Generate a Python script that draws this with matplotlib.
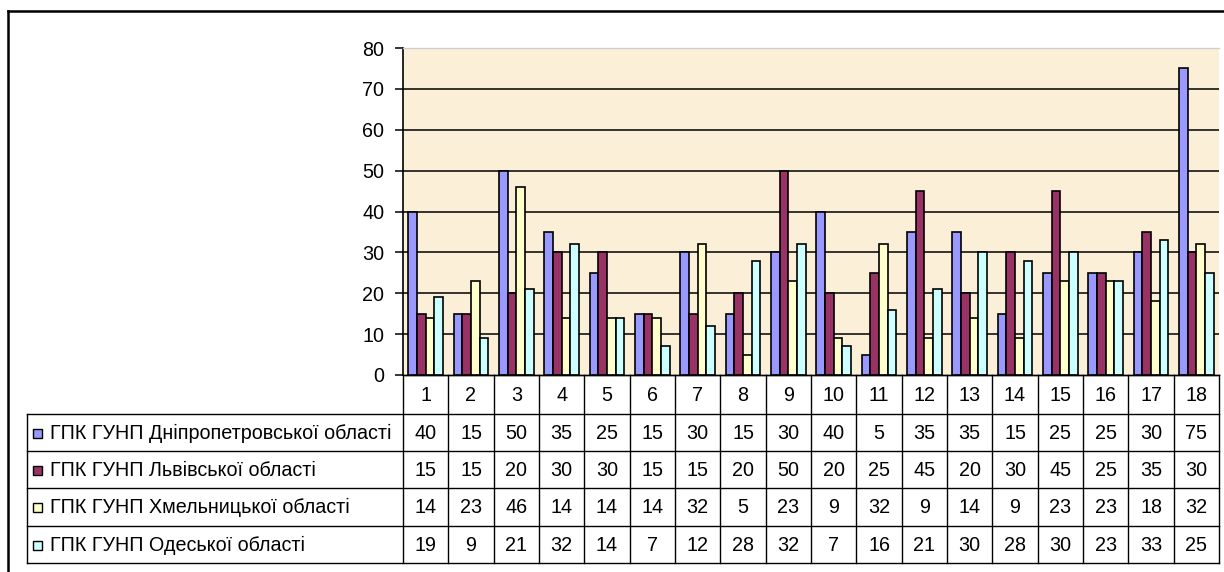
import numpy as np
import matplotlib
matplotlib.use("Agg")
import matplotlib.pyplot as plt
from matplotlib.patches import Rectangle

plt.rcParams['font.family'] = ['Liberation Sans', 'DejaVu Sans']

categories = [str(i) for i in range(1, 19)]
series_names = [
    "ГПК ГУНП Дніпропетровської області",
    "ГПК ГУНП Львівської області",
    "ГПК ГУНП Хмельницької області",
    "ГПК ГУНП Одеської області",
]
dnipro = [40, 15, 50, 35, 25, 15, 30, 15, 30, 40, 5, 35, 35, 15, 25, 25, 30, 75]
lviv = [15, 15, 20, 30, 30, 15, 15, 20, 50, 20, 25, 45, 20, 30, 45, 25, 35, 30]
khmel = [14, 23, 46, 14, 14, 14, 32, 5, 23, 9, 32, 9, 14, 9, 23, 23, 18, 32]
odesa = [19, 9, 21, 32, 14, 7, 12, 28, 32, 7, 16, 21, 30, 28, 30, 23, 33, 25]
y_ticks = [0, 10, 20, 30, 40, 50, 60, 70, 80]

series = [dnipro, lviv, khmel, odesa]
colors = ['#9999FF', '#993366', '#FFFFCC', '#CCFFFF']

FS = 14.2

W, H = 1224, 572
fig = plt.figure(figsize=(W / 100, H / 100), dpi=100)
fig.patch.set_facecolor('white')

# plot area in pixels
PL, PR, PT, PB = 403, 1219, 48, 375
ax = fig.add_axes([PL / W, 1 - PB / H, (PR - PL) / W, (PB - PT) / H])
ax.set_facecolor('#FCEFD8')
n = len(categories)
ax.set_xlim(0, n)
ax.set_ylim(0, 80)

bw = 0.19
x = np.arange(n) + 0.5
for k, (vals, c) in enumerate(zip(series, colors)):
    ax.bar(x + (k - 1.5) * bw, vals, width=bw, color=c, edgecolor='black',
           linewidth=1.2, zorder=3)

for t in y_ticks[1:-1]:
    ax.axhline(t, color='black', linewidth=1.1, zorder=2)

ax.set_yticks(y_ticks)
ax.set_yticklabels([str(t) for t in y_ticks], fontsize=FS)
ax.tick_params(axis='y', direction='out', length=6, width=1.1, pad=7.5, colors='black')
ax.set_xticks([])
ax.spines['right'].set_visible(False)
ax.spines['top'].set_color('#CFCFCF')
ax.spines['top'].set_linewidth(1.0)
ax.spines['left'].set_linewidth(1.2)
ax.spines['bottom'].set_linewidth(1.0)

# overlay in pixel coordinates for the data table and frame
ov = fig.add_axes([0, 0, 1, 1], zorder=5)
ov.set_xlim(0, W)
ov.set_ylim(H, 0)
ov.axis('off')
ov.patch.set_alpha(0)

lw = 1.0
# outer frame
ov.plot([8, 8], [11, H + 5], color='black', linewidth=1.8)
ov.plot([8, W + 5], [11, 11], color='black', linewidth=1.8)

edges = np.linspace(PL, PR, n + 1)
TL = 27
row_edges = [414, 451, 488, 525.5, 563]

# category row and table grid
ov.plot([PL, PR], [PB, PB], color='black', linewidth=lw)
for e in edges:
    ov.plot([e, e], [PB, row_edges[-1]], color='black', linewidth=lw)
ov.plot([TL, TL], [row_edges[0], row_edges[-1]], color='black', linewidth=lw)
for r in row_edges:
    ov.plot([TL, PR], [r, r], color='black', linewidth=lw)

for i, cat in enumerate(categories):
    cx = (edges[i] + edges[i + 1]) / 2
    ov.text(cx, (PB + row_edges[0]) / 2 + 1, cat, ha='center', va='center', fontsize=FS)

for k, (name, vals, c) in enumerate(zip(series_names, series, colors)):
    cy = (row_edges[k] + row_edges[k + 1]) / 2 + 1
    ov.add_patch(Rectangle((33, cy - 4.5), 9, 9, facecolor=c, edgecolor='black', linewidth=1.0))
    ov.text(50, cy, name, ha='left', va='center', fontsize=FS)
    for i, v in enumerate(vals):
        cx = (edges[i] + edges[i + 1]) / 2
        ov.text(cx, cy, str(v), ha='center', va='center', fontsize=FS)

fig.savefig('out.png', dpi=100)
